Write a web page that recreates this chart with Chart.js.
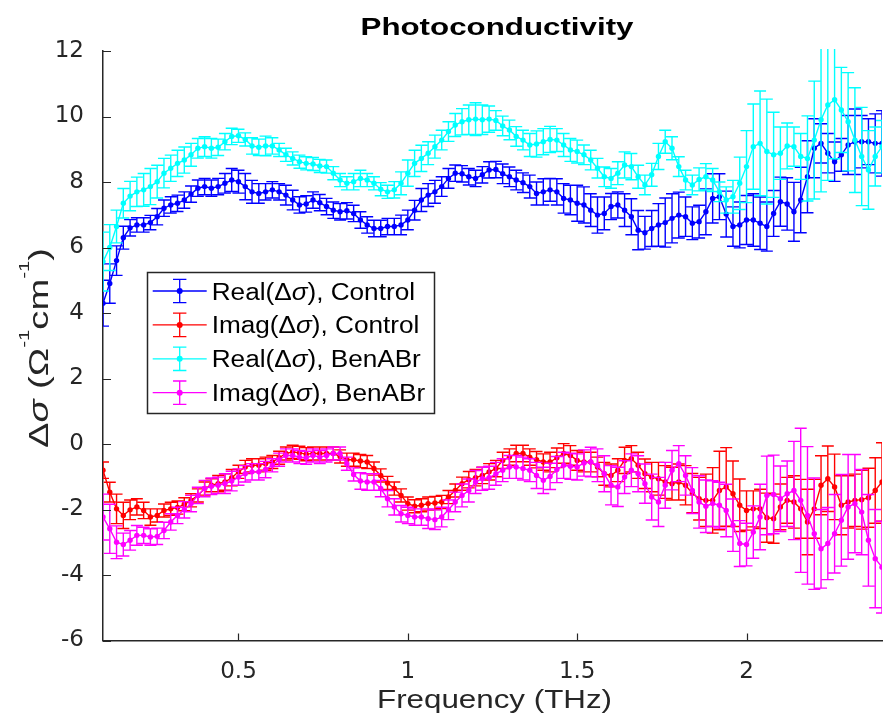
<!DOCTYPE html>
<html>
<head>
<meta charset="utf-8">
<title>Photoconductivity</title>
<script src="https://cdn.jsdelivr.net/npm/chart.js@4.4.1/dist/chart.umd.min.js"></script>
<style>
  html, body { margin: 0; padding: 0; background: #fff; }
  #wrap { width: 886px; height: 728px; }
</style>
</head>
<body>
<div id="wrap"><canvas id="photoChart" width="886" height="728"></canvas></div>
<script>
// frequency axis (THz)
const freq = [
  0.10,0.12,0.14,0.16,0.18,0.20,0.22,0.24,0.26,0.28,
  0.30,0.32,0.34,0.36,0.38,0.40,0.42,0.44,0.46,0.48,
  0.50,0.52,0.54,0.56,0.58,0.60,0.62,0.64,0.66,0.68,
  0.70,0.72,0.74,0.76,0.78,0.80,0.82,0.84,0.86,0.88,
  0.90,0.92,0.94,0.96,0.98,1.00,1.02,1.04,1.06,1.08,
  1.10,1.12,1.14,1.16,1.18,1.20,1.22,1.24,1.26,1.28,
  1.30,1.32,1.34,1.36,1.38,1.40,1.42,1.44,1.46,1.48,
  1.50,1.52,1.54,1.56,1.58,1.60,1.62,1.64,1.66,1.68,
  1.70,1.72,1.74,1.76,1.78,1.80,1.82,1.84,1.86,1.88,
  1.90,1.92,1.94,1.96,1.98,2.00,2.02,2.04,2.06,2.08,
  2.10,2.12,2.14,2.16,2.18,2.20,2.22,2.24,2.26,2.28,
  2.30,2.32,2.34,2.36,2.38,2.40
];

const realControl = [
  4.30,4.90,5.60,6.30,6.60,6.69,6.69,6.76,6.94,7.20,
  7.30,7.35,7.45,7.63,7.81,7.86,7.81,7.86,7.96,8.06,
  8.01,7.86,7.70,7.65,7.70,7.76,7.70,7.60,7.45,7.30,
  7.33,7.45,7.37,7.25,7.14,7.09,7.12,7.04,6.84,6.69,
  6.58,6.58,6.64,6.64,6.69,6.84,7.14,7.45,7.60,7.70,
  7.86,8.11,8.27,8.25,8.16,8.11,8.22,8.37,8.38,8.25,
  8.16,8.06,7.98,7.86,7.65,7.70,7.76,7.70,7.50,7.45,
  7.35,7.30,7.14,6.99,7.04,7.25,7.30,7.14,6.94,6.53,
  6.45,6.58,6.69,6.76,6.89,6.99,6.94,6.74,6.79,7.09,
  7.50,7.55,7.02,6.64,6.69,6.84,6.84,6.74,6.64,7.04,
  7.40,7.33,7.09,7.45,8.16,9.03,9.18,8.88,8.62,8.83,
  9.13,9.23,9.23,9.23,9.18,9.18
];
const realControlErr = [
  0.70,0.60,0.45,0.35,0.25,0.22,0.22,0.22,0.25,0.25,
  0.25,0.25,0.25,0.25,0.25,0.25,0.25,0.25,0.30,0.35,
  0.35,0.40,0.35,0.30,0.25,0.25,0.25,0.30,0.30,0.25,
  0.25,0.25,0.25,0.25,0.25,0.25,0.25,0.25,0.25,0.25,
  0.25,0.25,0.25,0.25,0.30,0.30,0.30,0.35,0.35,0.35,
  0.30,0.30,0.25,0.25,0.25,0.25,0.25,0.25,0.25,0.30,
  0.30,0.30,0.30,0.35,0.35,0.40,0.35,0.40,0.45,0.45,
  0.55,0.55,0.50,0.55,0.50,0.40,0.40,0.50,0.55,0.60,
  0.50,0.55,0.65,0.75,0.75,0.70,0.60,0.50,0.50,0.70,
  0.75,0.70,0.70,0.60,0.70,0.75,0.80,0.80,0.75,0.70,
  0.75,0.80,0.90,1.00,1.10,0.90,0.60,0.60,0.60,0.50,
  0.90,1.00,0.80,0.70,0.90,1.00
];

const imagControl = [
  -0.80,-1.47,-1.98,-2.18,-2.01,-1.92,-2.03,-2.23,-2.18,-2.03,
  -1.98,-1.94,-1.84,-1.72,-1.57,-1.36,-1.26,-1.21,-1.16,-1.03,
  -0.85,-0.70,-0.65,-0.65,-0.60,-0.55,-0.42,-0.29,-0.24,-0.27,
  -0.31,-0.29,-0.29,-0.29,-0.29,-0.38,-0.48,-0.48,-0.52,-0.55,
  -0.75,-0.96,-1.19,-1.36,-1.57,-1.82,-1.90,-1.87,-1.82,-1.80,
  -1.77,-1.62,-1.42,-1.21,-1.09,-1.03,-0.96,-0.85,-0.75,-0.50,
  -0.40,-0.29,-0.29,-0.40,-0.48,-0.55,-0.55,-0.42,-0.29,-0.35,
  -0.50,-0.55,-0.55,-0.70,-0.91,-0.96,-0.80,-0.50,-0.45,-0.65,
  -0.91,-1.01,-1.06,-1.16,-1.21,-1.16,-1.26,-1.50,-1.67,-1.72,
  -1.72,-1.42,-1.31,-1.52,-1.87,-2.03,-1.98,-1.98,-2.25,-2.28,
  -1.92,-1.72,-1.77,-1.98,-2.38,-1.98,-1.26,-1.06,-1.31,-1.87,
  -1.77,-1.72,-1.70,-1.64,-1.42,-1.16
];
const imagControlErr = [
  0.25,0.30,0.45,0.40,0.30,0.25,0.25,0.25,0.20,0.20,
  0.20,0.20,0.20,0.20,0.20,0.20,0.20,0.25,0.25,0.25,
  0.20,0.20,0.20,0.20,0.20,0.20,0.20,0.20,0.20,0.20,
  0.20,0.20,0.20,0.20,0.20,0.20,0.20,0.20,0.20,0.20,
  0.20,0.20,0.20,0.20,0.20,0.20,0.20,0.20,0.20,0.20,
  0.20,0.20,0.20,0.20,0.25,0.25,0.25,0.25,0.25,0.25,
  0.25,0.25,0.25,0.25,0.25,0.25,0.30,0.30,0.30,0.30,
  0.30,0.30,0.30,0.30,0.35,0.35,0.35,0.40,0.40,0.40,
  0.45,0.45,0.50,0.50,0.50,0.55,0.60,0.60,0.65,0.80,
  1.00,1.20,1.20,1.00,0.80,0.60,0.55,0.60,0.75,0.75,
  0.70,0.70,0.80,0.90,1.00,0.90,0.90,1.00,1.00,0.90,
  0.80,0.80,0.90,0.90,1.00,1.20
];

const realBen = [
  5.57,6.00,6.64,7.35,7.57,7.70,7.76,7.86,8.01,8.27,
  8.42,8.57,8.67,8.83,9.03,9.08,9.03,9.06,9.23,9.39,
  9.41,9.30,9.10,9.06,9.10,9.10,8.98,8.83,8.72,8.62,
  8.57,8.55,8.49,8.47,8.27,8.06,7.96,8.01,8.11,8.06,
  7.96,7.78,7.70,7.76,7.96,8.27,8.57,8.72,8.88,9.08,
  9.28,9.54,9.74,9.84,9.90,9.92,9.90,9.92,9.88,9.71,
  9.59,9.39,9.28,9.13,9.16,9.23,9.30,9.28,9.13,8.98,
  8.93,8.83,8.67,8.42,8.16,8.11,8.27,8.52,8.47,8.16,
  7.91,8.22,8.78,9.23,9.03,8.47,8.06,7.91,8.08,8.16,
  8.06,7.70,7.45,7.55,7.96,8.47,9.08,9.18,8.93,8.83,
  8.88,9.10,9.08,8.78,8.72,9.28,9.90,10.35,10.51,10.20,
  9.84,9.28,8.78,8.37,8.78,9.08
];
const realBenErr = [
  0.90,0.70,0.50,0.45,0.45,0.45,0.50,0.55,0.50,0.45,
  0.40,0.40,0.40,0.35,0.30,0.30,0.30,0.25,0.25,0.25,
  0.20,0.20,0.25,0.25,0.30,0.25,0.20,0.20,0.20,0.20,
  0.20,0.20,0.20,0.20,0.20,0.20,0.20,0.25,0.25,0.20,
  0.20,0.20,0.20,0.25,0.35,0.40,0.40,0.40,0.35,0.35,
  0.30,0.30,0.35,0.40,0.45,0.50,0.45,0.40,0.30,0.30,
  0.30,0.30,0.30,0.35,0.40,0.40,0.40,0.35,0.35,0.35,
  0.35,0.30,0.30,0.30,0.30,0.30,0.35,0.40,0.40,0.35,
  0.30,0.35,0.40,0.35,0.35,0.30,0.30,0.30,0.35,0.40,
  0.35,0.30,0.40,0.50,0.80,1.10,1.30,1.60,1.60,1.30,
  0.80,0.70,0.60,0.70,1.30,1.80,2.20,2.30,1.80,1.30,
  1.50,1.60,1.50,1.20,0.90,0.80
];

const imagBen = [
  -2.23,-2.59,-3.00,-3.07,-2.94,-2.79,-2.79,-2.84,-2.82,-2.64,
  -2.38,-2.18,-2.01,-1.82,-1.57,-1.36,-1.29,-1.26,-1.21,-1.13,
  -1.01,-0.91,-0.85,-0.85,-0.78,-0.65,-0.48,-0.35,-0.35,-0.40,
  -0.42,-0.35,-0.40,-0.35,-0.29,-0.29,-0.60,-0.93,-1.13,-1.16,
  -1.16,-1.36,-1.67,-1.92,-2.13,-2.18,-2.23,-2.23,-2.28,-2.31,
  -2.23,-2.01,-1.77,-1.57,-1.42,-1.16,-1.06,-1.03,-0.91,-0.80,
  -0.70,-0.70,-0.75,-0.80,-0.96,-1.11,-0.99,-0.78,-0.65,-0.68,
  -0.70,-0.58,-0.55,-0.65,-0.91,-1.26,-1.31,-1.01,-0.80,-0.91,
  -1.21,-1.62,-1.77,-1.26,-0.80,-0.60,-0.96,-1.42,-1.77,-1.90,
  -1.82,-1.87,-2.03,-2.48,-3.04,-3.07,-2.69,-2.23,-1.57,-1.54,
  -1.67,-1.52,-1.42,-1.72,-2.18,-2.74,-3.20,-3.04,-2.74,-2.33,
  -1.92,-1.82,-2.08,-2.94,-3.50,-3.76
];
const imagBenErr = [
  0.70,0.75,0.50,0.35,0.30,0.30,0.25,0.25,0.25,0.25,
  0.25,0.25,0.25,0.25,0.25,0.25,0.25,0.25,0.30,0.30,
  0.25,0.25,0.25,0.25,0.25,0.20,0.20,0.20,0.20,0.20,
  0.20,0.20,0.20,0.20,0.20,0.20,0.20,0.20,0.25,0.25,
  0.25,0.25,0.25,0.25,0.25,0.25,0.25,0.25,0.30,0.30,
  0.30,0.30,0.30,0.35,0.35,0.35,0.35,0.35,0.35,0.35,
  0.35,0.35,0.35,0.35,0.40,0.40,0.40,0.40,0.40,0.40,
  0.40,0.40,0.45,0.50,0.55,0.60,0.60,0.50,0.50,0.55,
  0.60,0.70,0.75,0.70,0.60,0.55,0.60,0.70,0.80,0.80,
  0.70,0.70,0.80,0.80,0.70,0.65,0.80,1.00,1.20,1.20,
  1.00,1.00,1.50,2.20,2.10,1.70,1.20,1.10,1.20,1.40,
  1.60,1.50,1.30,1.40,1.50,1.40
];

const seriesNames = ['Real(Δσ), Control', 'Imag(Δσ), Control', 'Real(Δσ), BenABr', 'Imag(Δσ), BenABr'];
const seriesValues = [realControl, imagControl, realBen, imagBen];
const seriesErrors = [realControlErr, imagControlErr, realBenErr, imagBenErr];
const seriesColors = ['#0000ff', '#ff0000', '#00ffff', '#ff00ff'];

const xTicks = [0.5, 1, 1.5, 2];
const xTickLabels = ['0.5', '1', '1.5', '2'];
const yTicks = [-6, -4, -2, 0, 2, 4, 6, 8, 10, 12];
const yTickLabels = ['-6', '-4', '-2', '0', '2', '4', '6', '8', '10', '12'];

const AXIS_COLOR = '#262626';
const FONT = '"Liberation Sans", Arial, Helvetica, sans-serif';

// draw a run of text pieces, stretched horizontally by sx
function partsWidth(ctx, parts) {
  let w = 0;
  parts.forEach(p => { ctx.font = p.font; w += ctx.measureText(p.text).width; });
  return w;
}
function drawParts(ctx, parts, x, y, sx, align) {
  const w = partsWidth(ctx, parts);
  ctx.save();
  ctx.translate(x, y);
  ctx.scale(sx, 1);
  ctx.textAlign = 'left';
  ctx.textBaseline = 'alphabetic';
  let cx = align === 'center' ? -w / 2 : 0;
  parts.forEach(p => {
    ctx.font = p.font;
    ctx.fillText(p.text, cx, -(p.rise || 0));
    cx += ctx.measureText(p.text).width;
  });
  ctx.restore();
}
function sigmaParts(name, size) {
  const bits = name.split('σ');
  return [
    { text: bits[0], font: size + 'px ' + FONT },
    { text: 'σ', font: 'italic ' + size + 'px ' + FONT },
    { text: bits[1], font: size + 'px ' + FONT }
  ];
}

const errorBars = {
  id: 'errorBars',
  beforeDatasetDraw(chart, args) {
    const ds = chart.data.datasets[args.index];
    const xs = chart.scales.x, ys = chart.scales.y;
    const area = chart.chartArea;
    const ctx = chart.ctx;
    ctx.save();
    ctx.beginPath();
    ctx.rect(area.left, area.top - 2, area.right - area.left, area.bottom - area.top + 4);
    ctx.clip();
    ctx.strokeStyle = ds.borderColor;
    ctx.lineWidth = 1.4;
    ctx.beginPath();
    ds.data.forEach((pt, i) => {
      const e = ds.errors[i];
      const px = xs.getPixelForValue(pt.x);
      const top = ys.getPixelForValue(pt.y + e);
      const bot = ys.getPixelForValue(pt.y - e);
      ctx.moveTo(px, top); ctx.lineTo(px, bot);
      ctx.moveTo(px - 6, top); ctx.lineTo(px + 6, top);
      ctx.moveTo(px - 6, bot); ctx.lineTo(px + 6, bot);
    });
    ctx.stroke();
    ctx.restore();
  }
};

const decorations = {
  id: 'decorations',
  afterDraw(chart) {
    const ctx = chart.ctx;
    const area = chart.chartArea;
    const xs = chart.scales.x, ys = chart.scales.y;

    // inward tick marks
    ctx.save();
    ctx.strokeStyle = AXIS_COLOR;
    ctx.lineWidth = 1.2;
    ctx.beginPath();
    xTicks.forEach(v => {
      const px = Math.round(xs.getPixelForValue(v)) + 0.5;
      ctx.moveTo(px, area.bottom); ctx.lineTo(px, area.bottom - 7);
    });
    yTicks.forEach(v => {
      const py = Math.round(ys.getPixelForValue(v)) + 0.5;
      ctx.moveTo(area.left, py); ctx.lineTo(area.left + 8, py);
    });
    ctx.stroke();
    ctx.restore();

    // title
    ctx.save();
    ctx.fillStyle = '#000';
    const titleParts = [{ text: 'Photoconductivity', font: 'bold 23px ' + FONT }];
    drawParts(ctx, titleParts, 497, 35, 273 / partsWidth(ctx, titleParts), 'center');

    // x axis title
    ctx.fillStyle = AXIS_COLOR;
    const xParts = [{ text: 'Frequency (THz)', font: '25px ' + FONT }];
    drawParts(ctx, xParts, 494.5, 708, 235 / partsWidth(ctx, xParts), 'center');

    // y axis title
    const yParts = [
      { text: 'Δ', font: '28px ' + FONT },
      { text: 'σ', font: 'italic 28px ' + FONT },
      { text: ' (Ω', font: '28px ' + FONT },
      { text: '-1', font: '15px ' + FONT, rise: 19 },
      { text: 'cm', font: '28px ' + FONT },
      { text: '-1', font: '15px ' + FONT, rise: 19 },
      { text: ')', font: '28px ' + FONT }
    ];
    ctx.translate(48, 348);
    ctx.rotate(-Math.PI / 2);
    drawParts(ctx, yParts, 0, 0, 200 / partsWidth(ctx, yParts), 'center');
    ctx.restore();

    // legend
    ctx.save();
    ctx.fillStyle = '#fff';
    ctx.fillRect(147.5, 272.5, 287, 141);
    ctx.strokeStyle = AXIS_COLOR;
    ctx.lineWidth = 1.5;
    ctx.strokeRect(147.5, 272.5, 287, 141);
    const lsx = 203.3 / partsWidth(ctx, sigmaParts(seriesNames[0], 23.3));
    seriesNames.forEach((name, i) => {
      const cy = 291 + i * 33.9;
      const cx = 179.7;
      const col = seriesColors[i];
      ctx.strokeStyle = col;
      ctx.lineWidth = 1.3;
      ctx.beginPath();
      ctx.moveTo(152.7, cy); ctx.lineTo(206.7, cy);
      ctx.moveTo(cx, cy - 11.7); ctx.lineTo(cx, cy + 11.7);
      ctx.moveTo(cx - 6.7, cy - 11.7); ctx.lineTo(cx + 6.7, cy - 11.7);
      ctx.moveTo(cx - 6.7, cy + 11.7); ctx.lineTo(cx + 6.7, cy + 11.7);
      ctx.stroke();
      ctx.fillStyle = col;
      ctx.beginPath();
      ctx.arc(cx, cy, 3, 0, Math.PI * 2);
      ctx.fill();
      ctx.fillStyle = '#000';
      drawParts(ctx, sigmaParts(name, 23.3), 211.7, cy + 8.5, lsx, 'left');
    });
    ctx.restore();
  }
};

const datasets = seriesNames.map((name, k) => ({
  label: name,
  data: freq.map((f, i) => ({ x: f, y: seriesValues[k][i] })),
  errors: seriesErrors[k],
  borderColor: seriesColors[k],
  backgroundColor: seriesColors[k],
  pointBackgroundColor: seriesColors[k],
  pointBorderWidth: 0,
  pointRadius: 2.7,
  borderWidth: 1.4,
  tension: 0,
  order: 4 - k
}));

const tickFont = { family: '"DejaVu Sans", sans-serif', size: 23 };

new Chart(document.getElementById('photoChart'), {
  type: 'line',
  data: { datasets: datasets },
  options: {
    responsive: false,
    animation: false,
    events: [],
    layout: { padding: { top: 51, right: 0, bottom: 0, left: 0 } },
    plugins: {
      legend: { display: false },
      title: { display: false },
      tooltip: { enabled: false }
    },
    scales: {
      x: {
        type: 'linear',
        min: 0.1,
        max: 2.4,
        afterBuildTicks: s => { s.ticks = xTicks.map(v => ({ value: v })); },
        afterFit: s => { s.height = 87.5; },
        grid: { display: false },
        border: { display: true, color: AXIS_COLOR, width: 1.5 },
        ticks: {
          font: tickFont,
          color: AXIS_COLOR,
          padding: 10,
          maxRotation: 0,
          autoSkip: false,
          callback: v => xTickLabels[xTicks.indexOf(v)]
        }
      },
      y: {
        type: 'linear',
        min: -6,
        max: 12,
        afterBuildTicks: s => { s.ticks = yTicks.map(v => ({ value: v })); },
        afterFit: s => { s.width = 103; },
        grid: { display: false },
        border: { display: true, color: AXIS_COLOR, width: 1.5 },
        ticks: {
          font: tickFont,
          color: AXIS_COLOR,
          padding: 11,
          autoSkip: false,
          callback: v => yTickLabels[yTicks.indexOf(v)]
        }
      }
    }
  },
  plugins: [errorBars, decorations]
});
</script>
</body>
</html>
